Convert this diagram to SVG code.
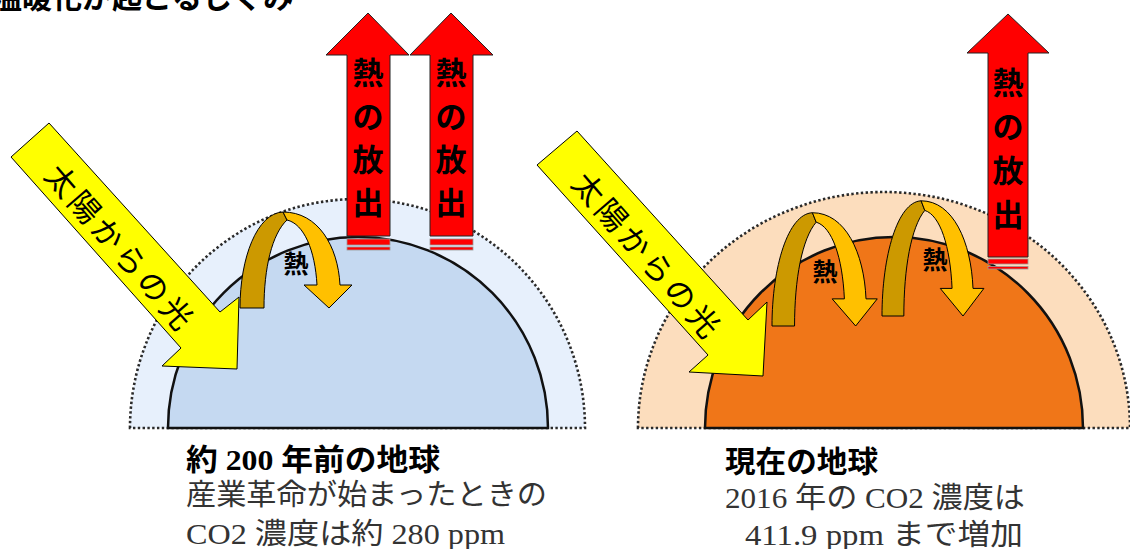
<svg xmlns="http://www.w3.org/2000/svg" width="1130" height="549" viewBox="0 0 1130 549">
  <defs>
    <style>
      .atmos { stroke: #2a2a2a; stroke-width: 2.6; stroke-dasharray: 2.4 2.4; }
      .earth { stroke: #111; stroke-width: 2.5; }
      .sun { fill: #FFFF00; stroke: #000; stroke-width: 1; stroke-linejoin: miter; }
      .sun-label { font-family: "Noto Sans CJK JP", sans-serif; font-size: 31px; fill: #000; letter-spacing: 4px; }
      .out { fill: #FF0000; stroke: #222; stroke-width: 1; }
      .stripe { fill: #FF0000; stroke: #9a9a9a; stroke-width: 0.8; }
      .out-label { font-family: "Noto Sans CJK JP", sans-serif; font-weight: bold; font-size: 31px; fill: #000; }
      .heat-back { fill: #CC9900; stroke: #000; stroke-width: 1; vector-effect: non-scaling-stroke; }
      .heat-front { fill: #FFC000; stroke: #000; stroke-width: 1; vector-effect: non-scaling-stroke; }
      .heat-label { font-family: "Noto Sans CJK JP", sans-serif; font-weight: bold; font-size: 25px; fill: #000; }
      .cap { font-family: "Liberation Serif", "Noto Sans CJK JP", serif; font-size: 30px; fill: #000; font-weight: bold; }
      .note { font-family: "Liberation Serif", "Noto Sans CJK JP", serif; font-size: 29px; fill: #333; }
      .title { font-family: "Noto Sans CJK JP", sans-serif; font-weight: bold; font-size: 30px; fill: #000; }
    </style>
    <!-- curved heat arrow: back band rising, front band falling into the head -->
    <g id="heat-arrow">
      <path class="heat-back" d="M0,0 L24,0 C24,-40 32,-74 47,-88 L43,-96 C17,-95 0,-50 0,0 Z"/>
      <path class="heat-front" d="M43,-96 C78,-96 98,-62 100,-23 L112,-23 L89,0 L64,-23 L77,-23 C75,-58 64,-84 47,-88 Z"/>
    </g>
  </defs>

  <rect width="1130" height="549" fill="#FFFFFF"/>

  <!-- title -->
  <text class="title" x="-8" y="8">温暖化が起こるしくみ</text>

  <!-- Earth about 200 years ago -->
  <g id="earth-past">
    <path class="atmos" fill="#E7F0FC" d="M130,428 A227.5,229 0 0 1 585,428 Z"/>
    <path class="earth" fill="#C5D9F1" d="M168,428 A190,191 0 0 1 548,428 Z"/>
  </g>

  <!-- Earth today -->
  <g id="earth-now">
    <path class="atmos" fill="#FCDDBD" d="M638,428 A246,236 0 0 1 1130,428 Z"/>
    <path class="earth" fill="#F07618" d="M705,428 A189,191 0 0 1 1083,428 Z"/>
  </g>

  <!-- heat trapped by the atmosphere -->
  <g id="heat-past">
    <text class="heat-label" x="296" y="262" text-anchor="middle" dominant-baseline="central">熱</text>
    <use href="#heat-arrow" transform="translate(240,308)"/>
  </g>
  <g id="heat-now-1">
    <text class="heat-label" x="825" y="270" text-anchor="middle" dominant-baseline="central">熱</text>
    <use href="#heat-arrow" transform="translate(772,326) scale(0.94,1.18)"/>
  </g>
  <g id="heat-now-2">
    <text class="heat-label" x="935" y="258" text-anchor="middle" dominant-baseline="central">熱</text>
    <use href="#heat-arrow" transform="translate(882,316) scale(0.91,1.2)"/>
  </g>

  <!-- heat escaping to space -->
  <g id="release-past-1">
    <path class="out" d="M368,13 L409,55 L390,55 L390,236 L347,236 L347,55 L326,55 Z"/>
    <rect class="stripe" x="347" y="239" width="43" height="6"/>
    <rect class="stripe" x="347" y="247" width="43" height="3"/>
    <g class="out-label" text-anchor="middle" dominant-baseline="central">
      <text x="368" y="70">熱</text>
      <text x="368" y="114">の</text>
      <text x="368" y="157">放</text>
      <text x="368" y="200">出</text>
    </g>
  </g>
  <g id="release-past-2">
    <path class="out" d="M451,13 L493,55 L473,55 L473,236 L430,236 L430,55 L410,55 Z"/>
    <rect class="stripe" x="430" y="239" width="43" height="6"/>
    <rect class="stripe" x="430" y="247" width="43" height="3"/>
    <g class="out-label" text-anchor="middle" dominant-baseline="central">
      <text x="451" y="70">熱</text>
      <text x="451" y="114">の</text>
      <text x="451" y="157">放</text>
      <text x="451" y="200">出</text>
    </g>
  </g>
  <g id="release-now">
    <path class="out" d="M1008,14 L1049,53 L1028,53 L1028,257 L988,257 L988,53 L967,53 Z"/>
    <rect class="stripe" x="988" y="259" width="40" height="5"/>
    <rect class="stripe" x="988" y="266.5" width="40" height="2.5"/>
    <g class="out-label" text-anchor="middle" dominant-baseline="central">
      <text x="1008" y="80">熱</text>
      <text x="1008" y="124">の</text>
      <text x="1008" y="168">放</text>
      <text x="1008" y="212">出</text>
    </g>
  </g>

  <!-- sunlight -->
  <g id="sunlight-past">
    <path class="sun" d="M11,157 L49,123 L220,312 L239,297 L237,369 L162,366 L181,348 Z"/>
    <text class="sun-label" x="0" y="0" text-anchor="middle" dominant-baseline="central" transform="translate(122,247) rotate(49)">太陽からの光</text>
  </g>
  <g id="sunlight-now">
    <path class="sun" d="M537,165 L577,131 L748,320 L767,302 L763,376 L689,372 L708,355 Z"/>
    <text class="sun-label" x="0" y="0" text-anchor="middle" dominant-baseline="central" transform="translate(649,255) rotate(49)">太陽からの光</text>
  </g>

  <!-- captions -->
  <g id="caption-past">
    <text class="cap" x="186" y="470" textLength="254" lengthAdjust="spacingAndGlyphs">約 200 年前の地球</text>
    <text class="note" x="186" y="505" textLength="361" lengthAdjust="spacingAndGlyphs">産業革命が始まったときの</text>
    <text class="note" x="186" y="544" textLength="319" lengthAdjust="spacingAndGlyphs">CO2 濃度は約 280 ppm</text>
  </g>
  <g id="caption-now">
    <text class="cap" x="725" y="472" textLength="153" lengthAdjust="spacingAndGlyphs">現在の地球</text>
    <text class="note" x="725" y="508" textLength="300" lengthAdjust="spacingAndGlyphs">2016 年の CO2 濃度は</text>
    <text class="note" x="745" y="545" textLength="278" lengthAdjust="spacingAndGlyphs">411.9 ppm まで増加</text>
  </g>
</svg>
